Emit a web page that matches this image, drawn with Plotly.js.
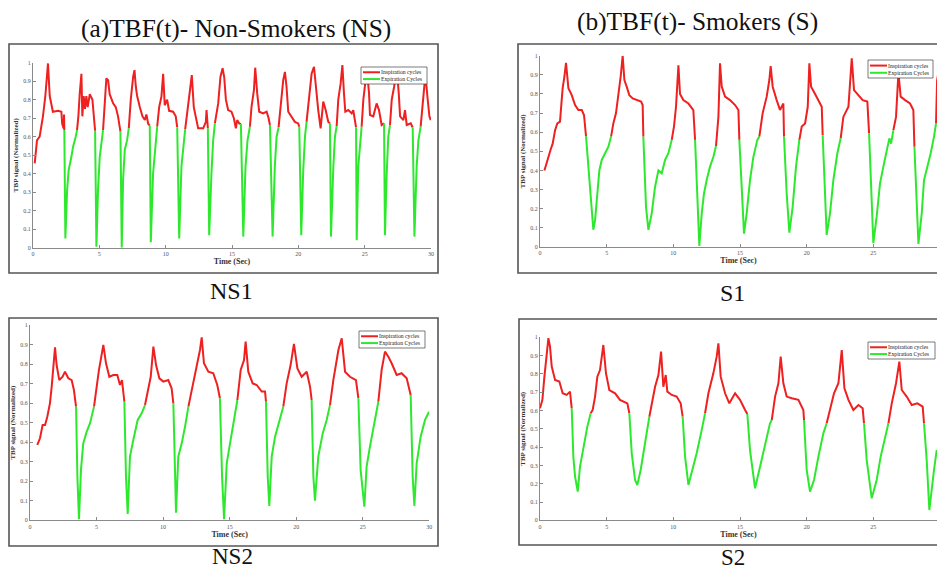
<!DOCTYPE html>
<html><head><meta charset="utf-8">
<script src="https://cdn.plot.ly/plotly-3.0.1.min.js"></script>
<style>html,body{margin:0;padding:0;background:#fff}#chart{width:937px;height:572px}</style>
</head><body><div id="chart"></div><script>
// ---------- DATA ----------
const ns1_t = [0.13,0.30,0.50,0.63,0.75,0.93,1.13,1.26,1.38,1.50,1.89,2.14,2.20,2.31,2.34,2.36,
2.44,2.57,2.69,2.89,3.02,3.22,3.32,
3.42,3.52,3.65,3.72,3.82,3.92,4.02,4.12,4.28,4.48,4.60,4.68,
4.78,4.90,5.03,5.28,
5.41,5.53,5.66,5.78,6.04,6.24,6.41,6.49,6.59,
6.69,6.79,6.92,7.09,7.22,
7.37,7.55,7.65,7.75,7.85,8.05,8.25,8.43,8.55,8.68,8.80,
8.88,9.05,9.18,9.36,
9.51,9.68,9.81,9.93,10.11,10.26,10.56,10.76,10.87,
11.02,11.19,11.37,11.47,
11.62,11.82,11.97,12.12,12.32,12.45,12.83,13.03,13.08,13.18,
13.28,13.45,13.58,13.71,
13.96,14.13,14.29,14.41,14.54,14.71,14.96,15.14,15.29,15.39,15.54,15.67,
15.85,16.02,16.17,16.35,
16.47,16.65,16.75,16.90,17.05,17.35,17.61,17.76,17.86,
18.06,18.23,18.36,18.51,
18.66,18.86,18.99,19.11,19.24,19.49,19.74,19.99,20.07,
20.22,20.37,20.50,20.62,
20.83,21.00,21.18,21.33,21.50,21.68,21.88,22.06,22.26,22.38,
22.46,22.64,22.76,22.89,
23.01,23.19,23.32,23.44,23.54,23.77,24.02,24.14,24.27,24.35,
24.40,24.52,24.65,24.77,
24.90,25.07,25.20,25.33,25.40,25.65,25.90,26.08,26.28,26.46,
26.53,26.66,26.78,26.91,
27.04,27.22,27.42,27.57,27.67,27.92,28.04,28.17,28.47,28.62,
28.75,28.92,29.05,29.22,
29.38,29.58,29.73,29.88,29.98];
const ns1_v = [0.456,0.58,0.60,0.65,0.71,0.82,0.996,0.82,0.78,0.735,0.74,0.735,0.67,0.645,0.72,0.636,
0.05,0.31,0.42,0.49,0.546,0.60,0.636,
0.71,0.83,0.94,0.71,0.82,0.75,0.82,0.76,0.83,0.80,0.72,0.632,
0.005,0.31,0.49,0.636,
0.76,0.915,0.905,0.83,0.78,0.76,0.71,0.67,0.627,
0.0,0.366,0.53,0.58,0.645,
0.80,0.925,0.96,0.87,0.82,0.76,0.71,0.69,0.72,0.67,0.66,
0.03,0.40,0.53,0.654,
0.76,0.816,0.94,0.77,0.80,0.74,0.735,0.71,0.65,
0.05,0.44,0.58,0.64,
0.726,0.83,0.933,0.76,0.69,0.645,0.645,0.68,0.744,0.645,
0.068,0.40,0.58,0.672,
0.78,0.924,0.97,0.924,0.80,0.744,0.735,0.70,0.645,0.69,0.672,0.668,
0.06,0.44,0.58,0.654,
0.76,0.85,0.973,0.834,0.735,0.726,0.735,0.70,0.663,
0.06,0.44,0.60,0.65,
0.76,0.906,0.95,0.87,0.735,0.71,0.68,0.672,0.654,
0.068,0.42,0.60,0.68,
0.834,0.94,0.978,0.85,0.744,0.645,0.79,0.744,0.68,0.672,
0.06,0.44,0.60,0.658,
0.80,0.888,0.987,0.834,0.735,0.744,0.726,0.744,0.68,0.65,
0.04,0.44,0.58,0.654,
0.80,0.906,0.94,0.834,0.717,0.71,0.78,0.744,0.663,0.672,
0.068,0.40,0.60,0.663,
0.80,0.87,0.97,0.834,0.71,0.69,0.744,0.663,0.672,0.65,
0.06,0.44,0.58,0.654,
0.80,0.94,0.816,0.71,0.69];
const ns1_expStart = [2.36,4.68,6.59,8.80,10.87,13.18,15.67,17.86,20.07,22.38,24.35,26.46,28.62];
const ns1_expEnd   = [3.32,5.28,7.22,9.36,11.47,13.71,16.35,18.51,20.62,22.89,24.77,26.91,29.22];

const s1_t = [0.33,0.50,0.63,0.80,0.95,1.13,1.30,1.50,1.63,1.70,1.83,1.95,2.05,2.13,2.38,2.63,2.88,3.13,3.30,3.45,
3.63,3.80,4.00,4.13,4.30,4.45,4.63,4.88,5.13,5.33,
5.50,5.70,5.88,6.05,6.20,6.33,6.50,6.70,6.95,7.25,7.58,7.70,7.75,
7.95,8.13,8.38,8.63,8.88,9.13,9.38,9.63,9.88,
10.05,10.20,10.38,10.50,10.75,11.13,11.50,11.63,
11.80,11.95,12.13,12.30,12.50,12.75,13.00,13.20,
13.38,13.50,13.63,13.88,14.25,14.63,14.88,14.95,
15.13,15.30,15.50,15.75,16.00,16.30,16.45,
16.70,17.00,17.20,17.30,17.45,17.75,18.00,18.25,18.30,
18.50,18.70,18.95,19.20,19.45,
19.63,19.88,20.08,20.20,20.33,20.63,20.95,21.13,21.20,
21.38,21.50,21.75,22.00,22.30,22.55,
22.75,23.13,23.25,23.38,23.55,23.88,24.20,24.55,24.68,
24.83,25.00,25.25,25.50,25.80,26.05,26.20,26.33,26.50,
26.70,26.88,27.05,27.38,27.75,28.00,28.08,
28.25,28.38,28.63,28.80,29.05,29.30,29.55,29.70,
29.78,29.90];
const s1_v = [0.40,0.44,0.48,0.51,0.54,0.61,0.646,0.655,0.77,0.83,0.89,0.963,0.89,0.83,0.794,0.742,0.716,0.716,0.69,0.58,
0.42,0.30,0.09,0.14,0.28,0.40,0.455,0.49,0.524,0.577,
0.646,0.70,0.786,0.89,1.0,0.873,0.838,0.794,0.777,0.768,0.76,0.742,0.577,
0.21,0.09,0.176,0.315,0.40,0.385,0.455,0.49,0.56,
0.63,0.733,0.95,0.80,0.768,0.75,0.716,0.56,
0.21,0.005,0.176,0.28,0.35,0.42,0.47,0.528,
0.68,0.96,0.838,0.786,0.768,0.742,0.716,0.56,
0.263,0.07,0.176,0.35,0.47,0.56,0.577,
0.70,0.786,0.873,0.946,0.838,0.768,0.716,0.75,0.577,
0.28,0.075,0.21,0.42,0.56,
0.63,0.646,0.733,0.96,0.838,0.80,0.76,0.733,0.585,
0.30,0.063,0.176,0.35,0.49,0.568,
0.68,0.733,0.855,0.986,0.82,0.794,0.768,0.76,0.594,
0.30,0.02,0.16,0.333,0.437,0.524,0.568,0.54,0.61,
0.68,0.91,0.786,0.768,0.75,0.716,0.524,
0.176,0.016,0.176,0.35,0.42,0.49,0.577,0.646,
0.87,0.92];
const s1_expStart = [3.45,7.75,11.63,14.95,18.30,21.20,24.68,28.08];
const s1_expEnd   = [5.33,9.88,13.20,16.45,19.45,22.55,26.50,29.70];

const ns2_t = [0.55,0.75,0.95,1.13,1.30,1.50,1.63,1.75,1.88,2.00,2.20,2.45,2.63,2.88,3.13,3.30,3.46,
3.56,3.68,3.83,4.00,4.26,4.51,4.81,
5.01,5.18,5.31,5.51,5.71,5.96,6.26,6.56,6.76,6.91,7.09,
7.21,7.34,7.51,7.76,8.09,8.39,8.64,
8.89,9.07,9.27,9.47,9.72,10.02,10.39,10.64,10.77,
10.89,10.97,11.14,11.40,11.65,11.90,
12.10,12.27,12.52,12.77,12.90,13.07,13.40,13.77,14.07,14.27,
14.43,14.58,14.78,15.03,15.33,15.58,
15.83,16.08,16.20,16.40,16.73,17.03,17.41,17.66,17.73,
17.86,17.98,18.16,18.41,18.73,19.03,
19.28,19.58,19.83,20.09,20.41,20.79,21.04,21.16,
21.29,21.41,21.66,21.99,22.29,22.54,
22.79,23.17,23.42,23.67,24.04,24.49,24.67,
24.84,25.12,25.29,25.54,25.92,26.17,
26.42,26.67,26.92,27.17,27.55,27.92,28.30,28.60,
28.75,28.88,29.05,29.35,29.68,29.98];
const ns2_v = [0.386,0.42,0.488,0.488,0.53,0.60,0.684,0.795,0.886,0.795,0.718,0.735,0.761,0.727,0.718,0.667,0.582,
0.224,0.005,0.258,0.394,0.454,0.497,0.582,
0.70,0.77,0.82,0.898,0.804,0.735,0.744,0.744,0.693,0.718,0.607,
0.224,0.032,0.326,0.411,0.514,0.548,0.59,
0.684,0.735,0.889,0.795,0.727,0.71,0.718,0.676,0.599,
0.224,0.039,0.326,0.394,0.48,0.582,
0.65,0.70,0.804,0.872,0.937,0.804,0.761,0.753,0.693,0.625,
0.224,0.005,0.292,0.394,0.514,0.616,
0.77,0.82,0.915,0.761,0.701,0.693,0.659,0.659,0.607,
0.224,0.073,0.326,0.428,0.514,0.582,
0.70,0.795,0.903,0.778,0.735,0.761,0.684,0.616,
0.224,0.10,0.326,0.445,0.514,0.59,
0.718,0.872,0.932,0.761,0.735,0.718,0.625,
0.258,0.07,0.275,0.377,0.514,0.607,
0.77,0.864,0.838,0.804,0.744,0.753,0.727,0.642,
0.224,0.073,0.292,0.428,0.514,0.556];
const ns2_expStart = [3.46,7.09,10.77,14.27,17.73,21.16,24.67,28.60];
const ns2_expEnd   = [4.81,8.64,11.90,15.58,19.03,22.54,26.17,29.98];

const s2_t = [0.00,0.18,0.33,0.50,0.63,0.75,0.88,1.13,1.45,1.70,2.00,2.25,2.38,
2.50,2.63,2.83,3.00,3.25,3.55,3.80,
3.95,4.13,4.30,4.50,4.75,4.95,5.20,5.63,6.00,6.55,6.70,
6.88,7.13,7.30,7.55,7.80,8.05,8.20,
8.38,8.63,8.88,9.08,9.25,9.43,9.55,9.88,10.25,10.55,10.70,
10.88,11.13,11.38,11.75,12.13,12.38,
12.63,13.00,13.25,13.38,13.55,13.88,14.20,14.63,15.00,15.38,15.55,
15.75,16.13,16.38,16.75,17.05,17.25,17.38,
17.63,17.88,18.05,18.25,18.50,18.88,19.38,19.75,19.80,
20.00,20.25,20.55,20.88,21.25,21.50,
21.75,22.05,22.38,22.63,22.83,23.13,23.50,23.88,24.20,24.30,
24.50,24.88,25.25,25.55,25.88,26.13,
26.38,26.70,26.95,27.13,27.50,27.88,28.30,28.70,28.80,
29.00,29.20,29.38,29.55,29.75];
const s2_v = [0.612,0.658,0.785,0.894,0.995,0.95,0.84,0.767,0.758,0.694,0.685,0.703,0.612,
0.348,0.239,0.157,0.293,0.403,0.512,0.585,
0.603,0.676,0.785,0.821,0.958,0.803,0.712,0.694,0.658,0.639,0.585,
0.366,0.22,0.193,0.275,0.384,0.494,0.566,
0.639,0.73,0.794,0.922,0.73,0.794,0.703,0.685,0.676,0.639,0.566,
0.348,0.193,0.257,0.366,0.494,0.585,
0.694,0.803,0.894,0.967,0.785,0.694,0.639,0.694,0.658,0.603,0.581,
0.384,0.175,0.257,0.366,0.475,0.53,0.548,
0.676,0.749,0.894,0.749,0.676,0.667,0.658,0.603,0.548,
0.275,0.157,0.22,0.348,0.475,0.53,
0.603,0.694,0.749,0.93,0.721,0.658,0.603,0.63,0.612,0.53,
0.33,0.12,0.22,0.348,0.457,0.53,
0.639,0.749,0.867,0.712,0.676,0.63,0.639,0.621,0.53,
0.33,0.056,0.184,0.275,0.384];
const s2_expStart = [2.38,6.70,10.70,15.55,19.80,24.30,28.80];
const s2_expEnd   = [3.80,8.20,12.38,17.38,21.50,26.13,29.75];

const xTicks = [0,5,10,15,20,25,30];
const panelTitles = ['(a)TBF(t)- Non-Smokers (NS)', '(b)TBF(t)- Smokers (S)'];
const captions = ['NS1','S1','NS2','S2'];
const legendNames = ['Inspiration cycles','Expiration Cycles'];

// ---------- BUILD ----------
const W = 937, H = 572;
const px = x => x / W;
const py = y => 1 - y / H;
const SERIF = 'Liberation Serif, Times New Roman, serif';
const RED = '#ee2020', GREEN = '#2ee82e';

function split(t, v, s, e) {
  const ins = {x:[], y:[]}, exp = {x:[], y:[]};
  let last = null;
  for (let i = 0; i < t.length - 1; i++) {
    const m = (t[i] + t[i+1]) / 2;
    let green = false;
    for (let k = 0; k < s.length; k++) if (m > s[k] && m < e[k]) green = true;
    const tr = green ? exp : ins;
    if (last !== tr) {
      if (tr.x.length) { tr.x.push(null); tr.y.push(null); }
      tr.x.push(t[i]); tr.y.push(v[i]);
    }
    tr.x.push(t[i+1]); tr.y.push(v[i+1]);
    last = tr;
  }
  return [ins, exp];
}

const panels = [
  {t:ns1_t, v:ns1_v, s:ns1_expStart, e:ns1_expEnd, xa:'x', ya:'y'},
  {t:s1_t, v:s1_v, s:s1_expStart, e:s1_expEnd, xa:'x2', ya:'y2'},
  {t:ns2_t, v:ns2_v, s:ns2_expStart, e:ns2_expEnd, xa:'x3', ya:'y3'},
  {t:s2_t, v:s2_v, s:s2_expStart, e:s2_expEnd, xa:'x4', ya:'y4'}
];
const traces = [];
panels.forEach(p => {
  const [ins, exp] = split(p.t, p.v, p.s, p.e);
  traces.push({type:'scatter', mode:'lines', x:ins.x, y:ins.y, name:legendNames[0], xaxis:p.xa, yaxis:p.ya,
    showlegend:false, line:{color:RED, width:2}, connectgaps:false, hoverinfo:'skip'});
  traces.push({type:'scatter', mode:'lines', x:exp.x, y:exp.y, name:legendNames[1], xaxis:p.xa, yaxis:p.ya,
    showlegend:false, line:{color:GREEN, width:2}, connectgaps:false, hoverinfo:'skip'});
});

function xAxis(d0, d1, range, anchor) {
  return {domain:[px(d0), px(d1)], range:range, anchor:anchor, showline:true, linecolor:'#8a8a8a', linewidth:1,
    ticks:'inside', ticklen:3, tickcolor:'#8a8a8a', tickvals:xTicks, showgrid:false, zeroline:false,
    tickfont:{family:SERIF, size:6, color:'#555'},
    title:{text:'<b>Time (Sec)</b>', font:{family:SERIF, size:8, color:'#333'}, standoff:2}, fixedrange:true};
}
function yAxis(bottom, top, anchor) {
  return {domain:[py(bottom), py(top)], range:[0,1], anchor:anchor, showline:true, linecolor:'#8a8a8a', linewidth:1,
    ticks:'inside', ticklen:3, tickcolor:'#8a8a8a', dtick:0.1, tick0:0, showgrid:false, zeroline:false,
    tickfont:{family:SERIF, size:6, color:'#555'},
    title:{text:'<b>TBP signal (Normalized)</b>', font:{family:SERIF, size:7, color:'#333'}, standoff:3}, fixedrange:true};
}
const S1range = [0, (W - 540) / (66.67/5)];

// frames around each panel (pixels: left, top, right, bottom)
const frames = [[9, 44, 438, 273], [518, 44, 945, 273], [9, 318, 438, 546], [519, 319, 945, 545]];
// manual legend boxes (pixels: left, top, right, bottom)
const legBoxes = [[361, 67, 427, 84], [868, 60, 933, 78], [359, 331, 425, 348], [868, 342, 935, 359]];

const shapes = frames.map(r => ({type:'rect', xref:'paper', yref:'paper', x0:px(r[0]), x1:px(r[2]), y0:py(r[3]), y1:py(r[1]),
    line:{color:'#555', width:1.6}, fillcolor:'rgba(0,0,0,0)', layer:'below'}));
const annotations = [
  {text:panelTitles[0], x:236, y:28, size:25.4},
  {text:panelTitles[1], x:697, y:22, size:25.4},
  {text:captions[0], x:231, y:291, size:24},
  {text:captions[1], x:732, y:293, size:24},
  {text:captions[2], x:232, y:556, size:23},
  {text:captions[3], x:733, y:557, size:23}
].map(a => ({text:a.text, x:px(a.x), y:py(a.y), xref:'paper', yref:'paper', xanchor:'center', yanchor:'middle',
    showarrow:false, borderpad:0, font:{family:SERIF, size:a.size, color:'#111'}}));

legBoxes.forEach(b => {
  const [l, t, r, bt] = b;
  const h = bt - t;
  shapes.push({type:'rect', xref:'paper', yref:'paper', x0:px(l), x1:px(r), y0:py(bt), y1:py(t),
    line:{color:'#444', width:0.7}, fillcolor:'#ffffff', layer:'above'});
  [[RED, 0.31], [GREEN, 0.71]].forEach((c, k) => {
    const yy = t + h * c[1];
    shapes.push({type:'line', xref:'paper', yref:'paper', x0:px(l + 2), x1:px(l + 19), y0:py(yy), y1:py(yy),
      line:{color:c[0], width:2}, layer:'above'});
    annotations.push({text:legendNames[k], x:px(l + 19), y:py(yy), xref:'paper', yref:'paper', xanchor:'left', yanchor:'middle',
      showarrow:false, borderpad:0, font:{family:SERIF, size:5.7, color:'#222'}});
  });
});

const layout = {
  width:W, height:H, margin:{l:0, r:0, t:0, b:0}, paper_bgcolor:'#fff', plot_bgcolor:'#fff',
  showlegend:false, font:{family:SERIF},
  xaxis: xAxis(33, 431, [0,30], 'y'),    yaxis: yAxis(247.7, 62.7, 'x'),
  xaxis2: xAxis(540, 937, S1range, 'y2'), yaxis2: yAxis(247, 55.7, 'x2'),
  xaxis3: xAxis(30, 429.3, [0,30], 'y3'), yaxis3: yAxis(520.3, 325, 'x3'),
  xaxis4: xAxis(540, 937, S1range, 'y4'), yaxis4: yAxis(520.3, 337.3, 'x4'),
  shapes: shapes,
  annotations: annotations
};

Plotly.newPlot('chart', traces, layout, {displayModeBar:false, staticPlot:true});
</script></body></html>
